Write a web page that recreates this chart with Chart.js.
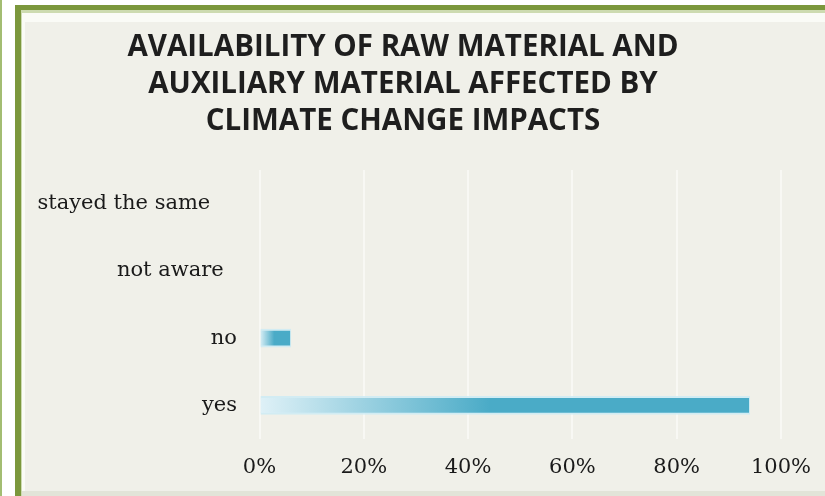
<!DOCTYPE html>
<html>
<head>
<meta charset="utf-8">
<title>Availability of raw material and auxiliary material</title>
<script src="https://cdn.jsdelivr.net/npm/chart.js@4.4.1/dist/chart.umd.min.js"></script>
<style>
  html, body { margin: 0; padding: 0; }
  body { width: 825px; height: 496px; overflow: hidden; position: relative; background: #ffffff; }
  .rule { position: absolute; left: 0; top: 0; width: 2px; height: 496px; background: #a3bd72; }
  .frame {
    position: absolute; left: 15px; top: 5px; width: 840px; height: 500px;
    box-sizing: border-box; background: #fafbf6;
    border-left: 6px solid #7b973c; border-top: 5px solid #7b973c;
  }
  .frame::before {
    content: ""; position: absolute; left: 0; top: 0; right: 0; bottom: 0;
    border-left: 1px solid #cddbb0; border-top: 3px solid #cddbb0;
  }
  #wrap { position: absolute; left: 25px; top: 22px; width: 810px; height: 469px; background: #f0f0e9; }
  .foot { position: absolute; left: 22px; top: 491px; width: 820px; height: 5px; background: #e2e4d8; }
</style>
</head>
<body>
<div class="rule"></div>
<div class="frame"></div>
<div id="wrap"><canvas id="chart"></canvas></div>
<div class="foot"></div>
<script>
// Survey answers, top row first
const categories = ['stayed the same', 'not aware', 'no', 'yes'];
const shares = [0, 0, 6, 94];
const percentTicks = ['0%', '20%', '40%', '60%', '80%', '100%'];
const titleLines = [
  'AVAILABILITY OF RAW MATERIAL AND',
  'AUXILIARY MATERIAL AFFECTED BY',
  'CLIMATE CHANGE IMPACTS'
];

// extra right-side spacing (in spaces) for the upper labels
const labelIndent = [4, 2, 0, 0];

const TEAL = '#4aabc7';
const PALE = '#dff1f7';

// each bar fades from pale to teal across its first half
function barFill(ctx) {
  const chart = ctx.chart;
  if (!chart.chartArea) return TEAL;
  const xs = chart.scales.x;
  const x0 = xs.getPixelForValue(0);
  const x1 = xs.getPixelForValue(ctx.raw || 0);
  const end = x0 + Math.max(1, (x1 - x0) * 0.47);
  const g = chart.ctx.createLinearGradient(x0, 0, end, 0);
  g.addColorStop(0, PALE);
  g.addColorStop(1, TEAL);
  return g;
}

new Chart(document.getElementById('chart'), {
  type: 'bar',
  data: {
    labels: categories,
    datasets: [{
      data: shares,
      backgroundColor: barFill,
      borderColor: 'rgba(205,235,244,0.85)',
      borderWidth: { top: 2, bottom: 2, right: 1, left: 0 },
      borderSkipped: false,
      barThickness: 18
    }]
  },
  options: {
    indexAxis: 'y',
    responsive: true,
    maintainAspectRatio: false,
    animation: false,
    layout: { padding: { left: 0, right: 54, top: 0, bottom: 0 } },
    plugins: {
      legend: { display: false },
      tooltip: { enabled: false },
      title: {
        display: true,
        text: titleLines,
        color: '#1e1e1e',
        font: { family: 'Open Sans', weight: 'bold', size: 29.5, lineHeight: 37 / 29.5 },
        padding: { top: 7, bottom: 30 }
      }
    },
    scales: {
      x: {
        min: 0,
        max: 100,
        ticks: {
          stepSize: 20,
          color: '#1a1a1a',
          padding: 16,
          font: { family: 'DejaVu Serif', size: 21 },
          callback: (v, i) => percentTicks[i]
        },
        grid: { color: 'rgba(255,255,255,0.5)', lineWidth: 2, drawTicks: false },
        border: { display: false },
        afterFit: (s) => { s.height = 52; }
      },
      y: {
        ticks: {
          color: '#1a1a1a',
          padding: 22.5,
          font: { family: 'DejaVu Serif', size: 21 },
          callback: (v, i) => categories[i] + ' '.repeat(labelIndent[i])
        },
        grid: { display: false, drawTicks: false },
        border: { display: false },
        afterFit: (s) => { s.width = 234.5; }
      }
    }
  }
});
</script>
</body>
</html>
